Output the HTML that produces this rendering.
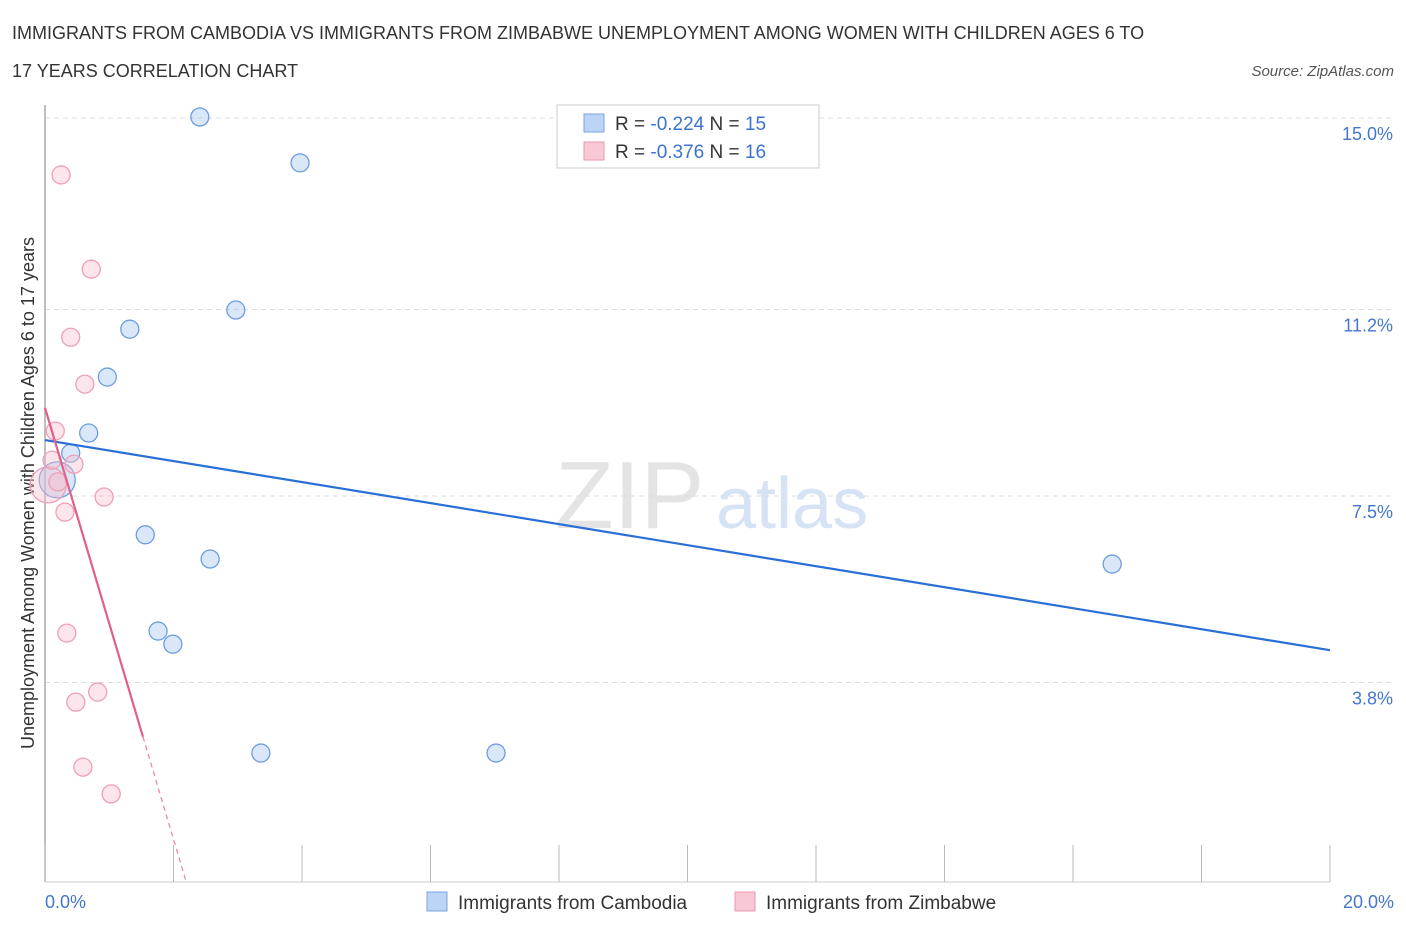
<!DOCTYPE html>
<html><head><meta charset="utf-8"><style>
body{margin:0;background:#fff;font-family:"Liberation Sans",sans-serif;}
svg text{font-family:"Liberation Sans",sans-serif;}
</style></head><body>
<svg id="chart" width="1406" height="930" xmlns="http://www.w3.org/2000/svg">
<text x="12" y="39" font-size="18" fill="#333">IMMIGRANTS FROM CAMBODIA VS IMMIGRANTS FROM ZIMBABWE UNEMPLOYMENT AMONG WOMEN WITH CHILDREN AGES 6 TO</text>
<text x="12" y="77" font-size="18" fill="#333">17 YEARS CORRELATION CHART</text>
<text x="1394" y="76" font-size="15" fill="#555" text-anchor="end" font-style="italic">Source: ZipAtlas.com</text>
<text x="555" y="528" font-size="96" fill="#e4e4e4" font-family="Liberation Serif">ZIP</text>
<text x="716" y="528" font-size="72" fill="#d6e3f5">atlas</text>
<g id="grid"></g>
<line x1="45" y1="105" x2="45" y2="882" stroke="#aaa" stroke-width="1.5"/>
<line x1="45" y1="882" x2="1330" y2="882" stroke="#ccc" stroke-width="1"/>
<g id="xticks"></g>
<text transform="translate(34,493) rotate(-90)" font-size="18" fill="#333" text-anchor="middle">Unemployment Among Women with Children Ages 6 to 17 years</text>
<text x="45" y="908" font-size="18" fill="#4477cc">0.0%</text>
<text x="1394" y="908" font-size="18" fill="#4477cc" text-anchor="end">20.0%</text>
<g id="points"></g>
<g id="trends"></g>
<g>
<rect x="557" y="105" width="262" height="63" fill="#fff" stroke="#ccc"/>
<rect x="584" y="114" width="20" height="18" fill="#bcd4f5" stroke="#7aa4e0"/>
<text x="615" y="130" font-size="19" fill="#333">R = <tspan fill="#3b73d0">-0.224</tspan>   N = <tspan fill="#3b73d0">15</tspan></text>
<rect x="584" y="142" width="20" height="18" fill="#f9c8d5" stroke="#e89ab0"/>
<text x="615" y="158" font-size="19" fill="#333">R = <tspan fill="#3b73d0">-0.376</tspan>   N = <tspan fill="#3b73d0">16</tspan></text>
</g>
<g><rect x="427" y="892" width="20" height="19" fill="#bcd4f5" stroke="#7aa4e0"/><text x="458" y="909" font-size="19" fill="#333">Immigrants from Cambodia</text></g>
<g><rect x="735" y="892" width="20" height="19" fill="#f9c8d5" stroke="#e89ab0"/><text x="766" y="909" font-size="19" fill="#333">Immigrants from Zimbabwe</text></g>
</svg>
<script>
const yTicks=[15.0,11.2,7.5,3.8];
const yTickLabels=["15.0%","11.2%","7.5%","3.8%"];
const xTickValues=[0,2,4,6,8,10,12,14,16,18,20];
const cambX=[2.41,3.97,2.97,1.32,0.97,0.68,0.40,0.19,1.56,2.57,1.76,1.99,3.36,7.02,16.61];
const cambY=[15.02,14.11,11.19,10.81,9.86,8.75,8.35,7.82,6.73,6.25,4.82,4.56,2.40,2.40,6.15];
const cambR=[9,9,9,9,9,9,9,18,9,9,9,9,9,9,9];
const zimX=[0.25,0.72,0.40,0.62,0.16,0.45,0.05,0.92,0.31,0.34,0.82,0.48,0.59,1.03,0.11,0.20];
const zimY=[13.87,12.00,10.65,9.72,8.79,8.13,7.72,7.48,7.18,4.78,3.61,3.41,2.12,1.59,8.21,7.78];
const zimR=[9,9,9,9,9,9,18,9,9,9,9,9,9,9,9,9];
const cambTrend=[8.61,4.44];
const zimTrend=[9.25,-4.28];
const NS="http://www.w3.org/2000/svg";
const X=v=>45+v*64.25, Y=v=>118+(15-v)*50.4;
function mk(t,a,p){const e=document.createElementNS(NS,t);for(const k in a)e.setAttribute(k,a[k]);p.appendChild(e);return e;}
const grid=document.getElementById('grid');
yTicks.forEach((v,i)=>{
 const l=mk('line',{x1:45,x2:1394,y1:Y(v),y2:Y(v),stroke:'#ddd','stroke-dasharray':'5,4'},grid);
 
 
 const t=mk('text',{x:1393,y:Y(v)+22,'font-size':18,fill:'#4477cc','text-anchor':'end'},grid);
 t.textContent=yTickLabels[i];
 
 
});
const xt=document.getElementById('xticks');
xTickValues.forEach(v=>{
 const l=mk('line',{x1:X(v),x2:X(v),y1:845,y2:882,stroke:'#bbb'},xt);
 
 
});
const pts=document.getElementById('points');
cambX.forEach((x,i)=>{
 const c=mk('circle',{cx:X(x),cy:Y(cambY[i]),r:cambR[i],fill:'rgba(160,195,240,0.4)',stroke:'#6d9de0','stroke-width':1.3},pts);
 
 
});
zimX.forEach((x,i)=>{
 const c=mk('circle',{cx:X(x),cy:Y(zimY[i]),r:zimR[i],fill:'rgba(248,190,205,0.4)',stroke:'#eea0b5','stroke-width':1.3},pts);
 
 
});
const tr=document.getElementById('trends');
const bl=mk('line',{x1:X(0),y1:Y(cambTrend[0]),x2:X(20),y2:Y(cambTrend[1]),stroke:'#2a6fd6','stroke-width':2.2},tr);


const zx1=1.525, zEnd=(zimTrend[0]+0.16)/-zimTrend[1];
const pl=mk('line',{x1:X(0),y1:Y(zimTrend[0]),x2:X(zx1),y2:Y(zimTrend[0]+zimTrend[1]*zx1),stroke:'#e0608a','stroke-width':2.2},tr);


const pd=mk('line',{x1:X(zx1),y1:Y(zimTrend[0]+zimTrend[1]*zx1),x2:X(zEnd),y2:Y(zimTrend[0]+zimTrend[1]*zEnd),stroke:'#e88aa8','stroke-width':1.3,'stroke-dasharray':'5,4'},tr);


</script>
</body></html>
